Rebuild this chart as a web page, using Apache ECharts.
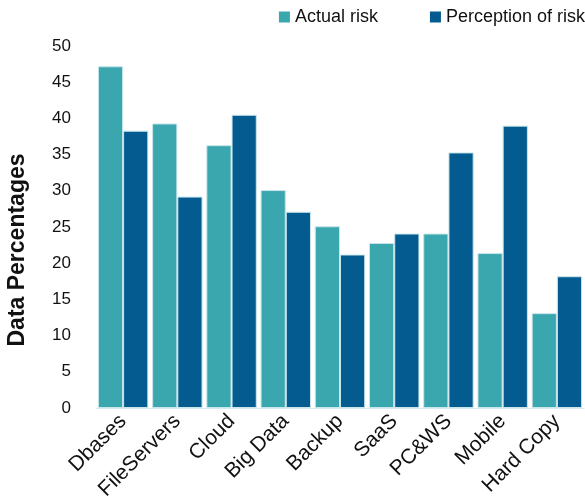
<!DOCTYPE html>
<html>
<head>
<meta charset="utf-8">
<script src="https://cdn.jsdelivr.net/npm/echarts@6/dist/echarts.min.js"></script>
<style>
  html, body { margin: 0; padding: 0; background: #fff; }
  #chart { width: 585px; height: 503px; }
</style>
</head>
<body>
<div id="chart"></div>
<script>
// Storage locations and the two risk measures (percent)
const categories = ['Dbases', 'FileServers', 'Cloud', 'Big Data', 'Backup', 'SaaS', 'PC&WS', 'Mobile', 'Hard Copy'];
const actualRisk = [47.2, 39.3, 36.3, 30.1, 25.1, 22.8, 24.1, 21.4, 13.1];
const perceivedRisk = [38.3, 29.2, 40.5, 27.1, 21.2, 24.1, 35.3, 39.0, 18.2];
const seriesNames = ['Actual risk', 'Perception of risk'];
const yTitle = 'Data Percentages';

const FONT = 'Liberation Sans, Arial, sans-serif';
const chart = echarts.init(document.getElementById('chart'), null, { renderer: 'canvas' });

chart.setOption({
  animation: false,
  textStyle: { fontFamily: FONT },
  legend: {
    data: seriesNames,
    top: 8,
    right: 0,
    padding: 0,
    itemWidth: 11,
    itemHeight: 11,
    itemGap: 52,
    icon: 'rect',
    itemStyle: { borderWidth: 0 },
    textStyle: { fontSize: 18, color: '#111', fontFamily: FONT }
  },
  // vertical axis title, set a little below the plot's middle
  graphic: [{
    type: 'text',
    x: 18,
    y: 250,
    rotation: Math.PI / 2,
    style: {
      text: yTitle,
      fontSize: 23,
      fontWeight: 'bold',
      fontFamily: FONT,
      fill: '#111',
      align: 'center',
      verticalAlign: 'middle'
    }
  }],
  grid: { left: 96, right: 1, top: 46, bottom: 95, containLabel: false },
  xAxis: {
    type: 'category',
    data: categories,
    axisLine: { show: true, lineStyle: { color: '#d8ecf0', width: 1 } },
    axisTick: { show: false },
    axisLabel: { rotate: 45, fontSize: 21, color: '#111', margin: 10, fontFamily: FONT, interval: 0 }
  },
  yAxis: {
    type: 'value',
    min: 0,
    max: 50,
    interval: 5,
    axisLine: { show: false },
    axisTick: { show: false },
    splitLine: { show: false },
    axisLabel: { fontSize: 17, color: '#111', margin: 25, fontFamily: FONT }
  },
  series: [
    {
      name: seriesNames[0],
      type: 'bar',
      data: actualRisk,
      barGap: '0%',
      barCategoryGap: '7%',
      itemStyle: { color: '#3aa6ae', borderColor: '#c9e6ea', borderWidth: 1 }
    },
    {
      name: seriesNames[1],
      type: 'bar',
      data: perceivedRisk,
      barGap: '0%',
      barCategoryGap: '7%',
      itemStyle: { color: '#035b8f', borderColor: '#c9e6ea', borderWidth: 1 }
    }
  ]
});
</script>
</body>
</html>
